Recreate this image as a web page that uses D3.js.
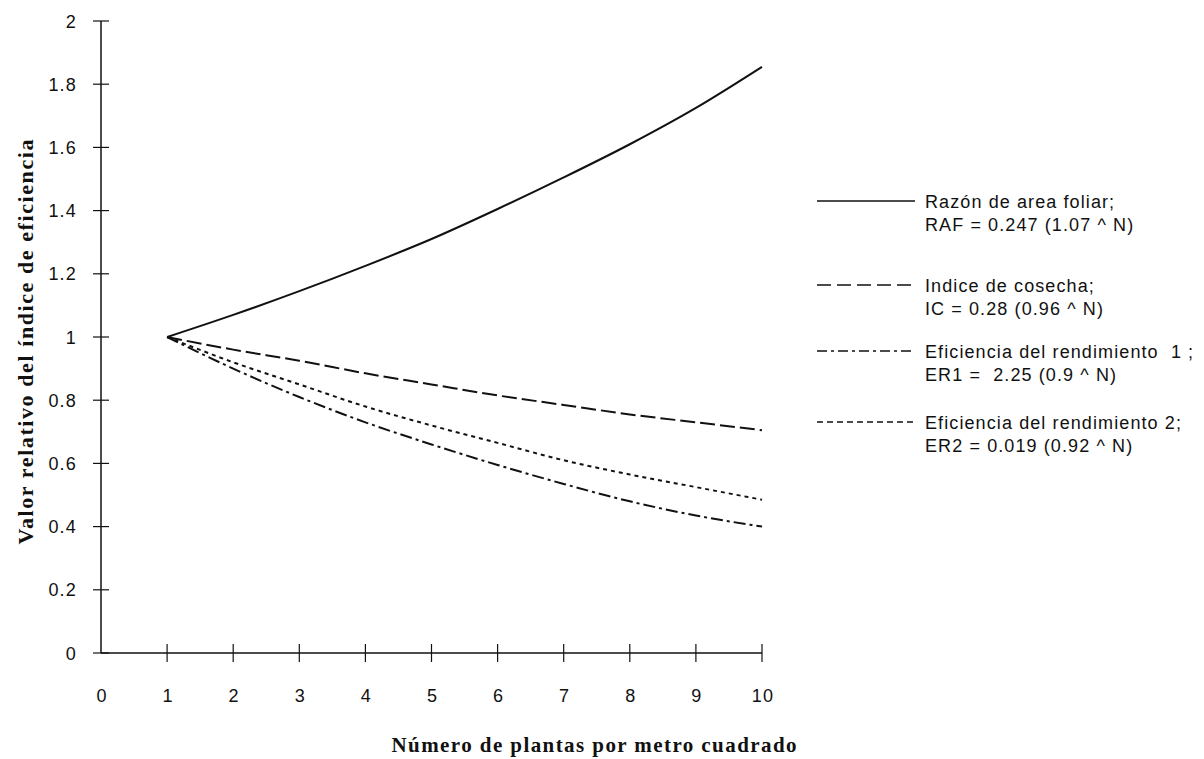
<!DOCTYPE html>
<html>
<head>
<meta charset="utf-8">
<script src="https://cdn.jsdelivr.net/npm/d3@7"></script>
<style>
  body { margin: 0; background: #fff; }
  svg { display: block; }
  text { white-space: pre; }
</style>
</head>
<body>
<div id="chart"></div>
<script>
// plants per square metre
const plants = [1, 2, 3, 4, 5, 6, 7, 8, 9, 10];

// relative value of each efficiency index
const raf = [1, 1.07, 1.145, 1.225, 1.31, 1.405, 1.505, 1.61, 1.725, 1.855];
const ic  = [1, 0.96, 0.925, 0.885, 0.85, 0.815, 0.785, 0.755, 0.73, 0.705];
const er1 = [1, 0.90, 0.81, 0.73, 0.66, 0.595, 0.535, 0.48, 0.435, 0.40];
const er2 = [1, 0.92, 0.85, 0.78, 0.72, 0.665, 0.61, 0.565, 0.525, 0.485];

const xTicks = [0, 1, 2, 3, 4, 5, 6, 7, 8, 9, 10];
const yTicks = [0, 0.2, 0.4, 0.6, 0.8, 1, 1.2, 1.4, 1.6, 1.8, 2];

const legendLabels = [
  ["Razón de area foliar;", "RAF = 0.247 (1.07 ^ N)"],
  ["Indice de cosecha;", "IC = 0.28 (0.96 ^ N)"],
  ["Eficiencia del rendimiento  1 ;", "ER1 =  2.25 (0.9 ^ N)"],
  ["Eficiencia del rendimiento 2;", "ER2 = 0.019 (0.92 ^ N)"]
];

const series = [
  { values: raf, dash: null, key: null },
  { values: ic, dash: "15,5", key: "14,6" },
  { values: er1, dash: "12,4,3,4", key: "10,4,3,4" },
  { values: er2, dash: "4,4", key: "6,4" }
];

const width = 1204, height = 759;

const x = d3.scaleLinear().domain([0, 10]).range([101, 762]);
const y = d3.scaleLinear().domain([0, 2]).range([653, 21]);

const svg = d3.select("#chart").append("svg")
  .attr("width", width)
  .attr("height", height);

const ink = "#111";
const sans = "'Liberation Sans', Arial, sans-serif";
const serif = "'Liberation Serif', 'Times New Roman', serif";

// axis lines
svg.append("line")
  .attr("x1", x(0)).attr("x2", x(0))
  .attr("y1", y(2)).attr("y2", y(0))
  .attr("stroke", ink).attr("stroke-width", 1.5);

svg.append("line")
  .attr("x1", x(0)).attr("x2", x(10))
  .attr("y1", y(0)).attr("y2", y(0))
  .attr("stroke", ink).attr("stroke-width", 1.5);

// y ticks cross the axis
svg.append("g").selectAll("line")
  .data(yTicks)
  .enter().append("line")
  .attr("x1", x(0) - 8).attr("x2", x(0) + 8)
  .attr("y1", d => y(d)).attr("y2", d => y(d))
  .attr("stroke", ink).attr("stroke-width", 1.2);

svg.append("g").selectAll("text")
  .data(yTicks)
  .enter().append("text")
  .attr("x", 77)
  .attr("y", d => y(d) + 6.5)
  .attr("text-anchor", "end")
  .attr("font-family", sans)
  .attr("font-size", "18px")
  .attr("letter-spacing", "1.2px")
  .attr("fill", ink)
  .text(d => d);

svg.append("g").selectAll("line")
  .data(xTicks.slice(1))
  .enter().append("line")
  .attr("x1", d => x(d)).attr("x2", d => x(d))
  .attr("y1", y(0) - 9).attr("y2", y(0) + 9)
  .attr("stroke", ink).attr("stroke-width", 1.2);

svg.append("g").selectAll("text")
  .data(xTicks)
  .enter().append("text")
  .attr("x", d => x(d) + 1)
  .attr("y", 702)
  .attr("text-anchor", "middle")
  .attr("font-family", sans)
  .attr("font-size", "18px")
  .attr("letter-spacing", "1.2px")
  .attr("fill", ink)
  .text(d => d);

// axis titles
svg.append("text")
  .attr("x", 594)
  .attr("y", 752)
  .attr("text-anchor", "middle")
  .attr("font-family", serif)
  .attr("font-weight", "bold")
  .attr("font-size", "21px")
  .attr("textLength", 405)
  .attr("lengthAdjust", "spacing")
  .attr("fill", ink)
  .text("Número de plantas por metro cuadrado");

svg.append("text")
  .attr("transform", "translate(33, 342) rotate(-90)")
  .attr("text-anchor", "middle")
  .attr("font-family", serif)
  .attr("font-weight", "bold")
  .attr("font-size", "22px")
  .attr("textLength", 405)
  .attr("lengthAdjust", "spacing")
  .attr("fill", ink)
  .text("Valor relativo del índice de eficiencia");

// curves
const line = d3.line()
  .x((d, i) => x(plants[i]))
  .y(d => y(d))
  .curve(d3.curveMonotoneX);

svg.append("g").selectAll("path")
  .data(series)
  .enter().append("path")
  .attr("d", d => line(d.values))
  .attr("fill", "none")
  .attr("stroke", ink)
  .attr("stroke-width", 2)
  .attr("stroke-dasharray", d => d.dash);

// legend
const legendTop = [208, 292, 358, 429];

const items = svg.append("g").selectAll("g")
  .data(series)
  .enter().append("g")
  .attr("transform", (d, i) => `translate(0, ${legendTop[i]})`);

items.append("line")
  .attr("x1", 817).attr("x2", 915)
  .attr("y1", -7).attr("y2", -7)
  .attr("stroke", ink)
  .attr("stroke-width", 1.5)
  .attr("stroke-dasharray", d => d.key);

items.append("text")
  .attr("x", 925)
  .attr("y", 0)
  .attr("xml:space", "preserve")
  .attr("font-family", sans)
  .attr("font-size", "18px")
  .attr("letter-spacing", "1.1px")
  .attr("fill", ink)
  .text((d, i) => legendLabels[i][0]);

items.append("text")
  .attr("x", 925)
  .attr("y", 23)
  .attr("xml:space", "preserve")
  .attr("font-family", sans)
  .attr("font-size", "18px")
  .attr("letter-spacing", "1.1px")
  .attr("fill", ink)
  .text((d, i) => legendLabels[i][1]);
</script>
</body>
</html>
